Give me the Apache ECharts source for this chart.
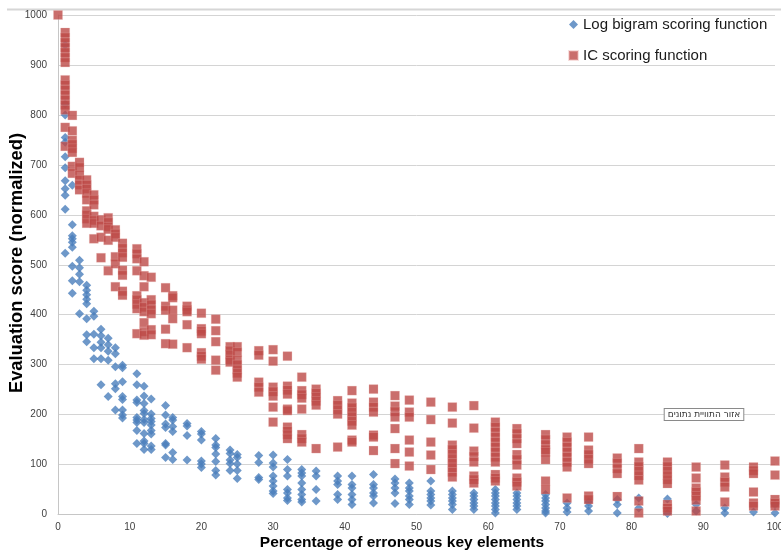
<!DOCTYPE html>
<html>
<head>
<meta charset="utf-8">
<script src="https://cdn.jsdelivr.net/npm/echarts@6/dist/echarts.min.js"></script>
<style>
  html, body { margin: 0; padding: 0; background: #ffffff; }
  #chart { width: 781px; height: 551px; }
</style>
</head>
<body>
<div id="chart"></div>
<script>
// Percentage of erroneous key elements (x positions of each column of results)
const errorPct = [0, 1, 2, 3, 4, 5, 6, 7, 8, 9, 11, 12, 13, 15, 16, 18, 20, 22, 24, 25,
  28, 30, 32, 34, 36, 39, 41, 44, 47, 49, 52, 55, 58, 61, 64, 68, 71, 74, 78, 81,
  85, 89, 93, 97, 100];

// Normalized evaluation scores, one list per column of errorPct
const logBigramScores = [
  [],
  [940, 822, 800, 755, 745, 716, 694, 668, 652, 639, 611, 523],
  [659, 580, 558, 552, 545, 535, 497, 468, 443],
  [509, 494, 481, 466, 402],
  [459, 449, 440, 431, 422, 392, 360, 346],
  [407, 397, 361, 334, 312],
  [371, 358, 345, 334, 312, 260],
  [353, 340, 327, 309, 236],
  [334, 322, 296, 262, 252, 209],
  [299, 294, 266, 236, 230, 209, 199, 193],
  [282, 260, 229, 224, 194, 189, 184, 168, 142],
  [257, 237, 222, 208, 202, 190, 184, 162, 147, 142, 130],
  [231, 201, 192, 186, 179, 168, 161, 137, 130],
  [218, 199, 181, 174, 142, 139, 114],
  [194, 189, 176, 166, 124, 110],
  [182, 177, 158, 109],
  [166, 161, 149, 107, 101, 94],
  [152, 139, 134, 121, 106, 88, 79],
  [129, 122, 109, 102, 88],
  [120, 114, 101, 88, 72],
  [118, 104, 74, 70],
  [119, 103, 95, 77, 67, 57, 47, 42],
  [110, 90, 77, 50, 43, 33, 28],
  [90, 83, 77, 63, 50, 40, 30, 25],
  [87, 77, 50, 27],
  [77, 67, 60, 40, 30],
  [77, 60, 53, 40, 30, 20],
  [80, 60, 53, 43, 37, 23],
  [71, 63, 53, 43, 22],
  [63, 53, 47, 37, 30, 20],
  [67, 47, 40, 33, 27, 19],
  [47, 40, 33, 27, 20, 10],
  [43, 37, 30, 23, 17, 10],
  [50, 43, 37, 30, 23, 17, 10, 3],
  [43, 37, 30, 23, 17, 10],
  [40, 33, 27, 20, 13, 7, 3],
  [23, 13, 5],
  [25, 17, 7],
  [30, 20, 3],
  [33, 13],
  [31, 2],
  [20, 7],
  [13, 3],
  [5],
  [20, 3]
];

const icScores = [
  [1000],
  [965, 955, 945, 935, 925, 915, 905, 870, 860, 850, 840, 830, 820, 810, 775, 737],
  [799, 768, 749, 741, 733, 725, 697, 683],
  [705, 695, 680, 670, 660, 650],
  [670, 660, 652, 643, 630, 608, 600, 592, 583],
  [640, 630, 620, 597, 589, 583, 552],
  [590, 578, 555, 514],
  [594, 585, 576, 571, 549, 488],
  [570, 562, 555, 516, 502, 456],
  [543, 533, 524, 515, 489, 479, 447, 439],
  [532, 522, 512, 488, 438, 430, 421, 412, 362],
  [506, 478, 456, 424, 415, 406, 384, 366, 359],
  [475, 430, 420, 410, 402, 370, 360],
  [454, 417, 409, 371, 342],
  [438, 434, 409, 392, 341],
  [417, 410, 406, 380, 334],
  [403, 372, 367, 362, 324, 317, 311],
  [391, 368, 346, 309, 289],
  [336, 328, 320, 310, 305],
  [336, 325, 309, 300, 290, 283, 275],
  [328, 319, 265, 255, 245],
  [330, 307, 255, 246, 237, 215, 185],
  [317, 257, 249, 241, 211, 208, 175, 167, 160, 152],
  [275, 248, 240, 233, 211, 160, 152, 145],
  [251, 243, 235, 227, 219, 132],
  [228, 219, 210, 201, 135],
  [248, 223, 214, 205, 196, 187, 179, 149, 145],
  [251, 225, 215, 205, 159, 155, 128],
  [238, 217, 206, 195, 172, 132, 102],
  [229, 205, 195, 149, 125, 97],
  [225, 190, 145, 119, 90],
  [215, 183, 139, 130, 121, 112, 103, 94, 85, 75],
  [218, 173, 127, 116, 105, 77, 70, 63],
  [185, 175, 165, 155, 145, 135, 125, 115, 105, 80, 73, 67],
  [172, 162, 152, 142, 120, 110, 99, 73, 65, 57],
  [160, 150, 140, 130, 125, 110, 67, 50],
  [155, 145, 135, 125, 115, 105, 95, 33],
  [155, 129, 120, 111, 102, 37, 30],
  [113, 103, 92, 82, 36],
  [132, 105, 96, 87, 78, 69, 27, 3],
  [105, 96, 87, 78, 70, 62, 20, 13, 7],
  [95, 73, 53, 45, 37, 29, 7],
  [99, 75, 65, 55, 25],
  [95, 88, 82, 45, 23, 17],
  [107, 79, 30, 23, 17]
];

const seriesNames = ['Log bigram scoring function', 'IC scoring function'];
const axisTitles = { x: 'Percentage of erroneous key elements', y: 'Evaluation score (normalized)' };
const xTicks = { min: 0, max: 100, step: 10 };
const yTicks = { min: 0, max: 1000, step: 100 };

// Flatten a per-column score table into [x, y] points
function toPoints(table) {
  const pts = [];
  table.forEach((vals, i) => vals.forEach(v => pts.push([errorPct[i], v])));
  return pts;
}

const font = 'Liberation Sans';
const chart = echarts.init(document.getElementById('chart'), null, { renderer: 'canvas' });

chart.setOption({
  animation: false,
  backgroundColor: '#ffffff',
  grid: { left: 58, right: 6, top: 15, bottom: 36.5, containLabel: false, outerBoundsMode: 'none' },
  legend: {
    orient: 'vertical',
    left: 563,
    top: 12,
    itemGap: 16,
    itemWidth: 9,
    itemHeight: 9,
    textStyle: { fontFamily: font, fontSize: 15, color: '#1a1a1a' },
    data: [
      { name: seriesNames[0], icon: 'diamond' },
      { name: seriesNames[1], icon: 'rect' }
    ]
  },
  xAxis: {
    type: 'value',
    min: xTicks.min, max: xTicks.max, interval: xTicks.step,
    axisLine: { show: true, lineStyle: { color: '#c6c6c6', width: 1 } },
    axisTick: { show: false },
    splitLine: { show: false },
    axisLabel: { fontFamily: font, fontSize: 10, color: '#404040', margin: 8, formatter: v => String(v) }
  },
  yAxis: {
    type: 'value',
    min: yTicks.min, max: yTicks.max, interval: yTicks.step,
    axisLine: { show: true, lineStyle: { color: '#c6c6c6', width: 1 } },
    axisTick: { show: false },
    splitLine: { show: true, lineStyle: { color: '#d4d4d4', width: 1 } },
    axisLabel: { fontFamily: font, fontSize: 10, color: '#404040', margin: 11, formatter: v => String(v) }
  },
  series: [
    {
      name: seriesNames[0],
      type: 'scatter',
      symbol: 'diamond',
      symbolSize: 9,
      itemStyle: { color: '#4a7ebb' },
      data: toPoints(logBigramScores)
    },
    {
      name: seriesNames[1],
      type: 'scatter',
      symbol: 'rect',
      symbolSize: 9,
      itemStyle: { color: '#bd4a47', borderColor: 'rgba(236, 180, 178, 0.55)', borderWidth: 0.6 },
      data: toPoints(icScores)
    }
  ],
  graphic: [
    {
      type: 'line',
      shape: { x1: 7, y1: 9.5, x2: 781, y2: 9.5 },
      style: { stroke: '#d6d6d6', lineWidth: 2 },
      silent: true
    },
    {
      type: 'text',
      x: 402,
      y: 543,
      style: {
        text: axisTitles.x,
        fontFamily: font, fontSize: 15.5, fontWeight: 'bold', fill: '#000000',
        align: 'center', verticalAlign: 'middle'
      }
    },
    {
      type: 'text',
      x: 17,
      y: 263,
      rotation: Math.PI / 2,
      style: {
        text: axisTitles.y,
        fontFamily: font, fontSize: 18.3, fontWeight: 'bold', fill: '#000000',
        align: 'center', verticalAlign: 'middle'
      }
    },
    {
      type: 'text',
      x: 704,
      y: 414.5,
      z: 100,
      style: {
        text: 'אזור התוויית נתונים',
        fontFamily: 'DejaVu Sans', fontSize: 9, fill: '#333333',
        align: 'center', verticalAlign: 'middle',
        backgroundColor: '#ffffff', borderColor: '#8a8a8a', borderWidth: 1,
        padding: [1, 3, 1, 3]
      }
    }
  ]
});
</script>
</body>
</html>
